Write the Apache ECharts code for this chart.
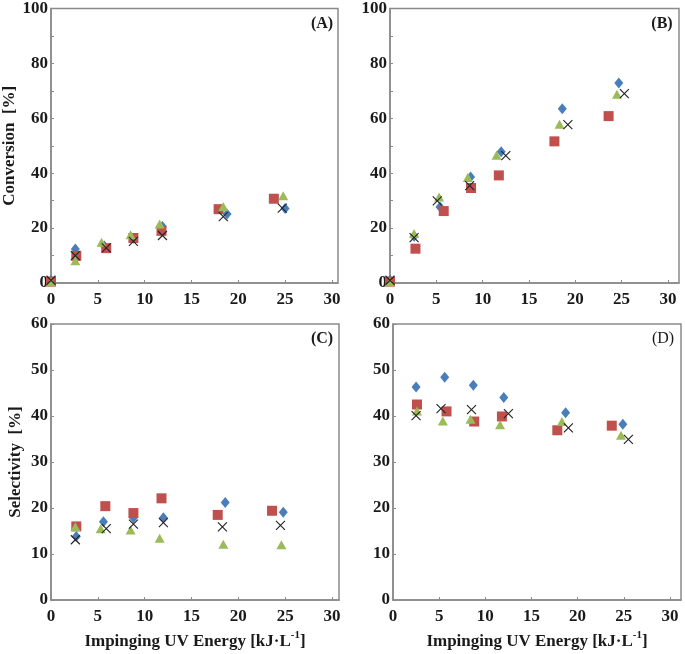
<!DOCTYPE html>
<html>
<head>
<meta charset="utf-8">
<script src="https://cdn.jsdelivr.net/npm/echarts@6/dist/echarts.min.js"></script>
<style>html,body{margin:0;padding:0;background:#fff}#c{width:685px;height:654px}</style>
</head>
<body>
<div id="c"></div>
<script>
// ---------- DATA ----------
const xTickValues = [0, 5, 10, 15, 20, 25, 30];
const convTickLabels = [0, 20, 40, 60, 80, 100];
const selTickLabels = [0, 10, 20, 30, 40, 50, 60];
const panelLabels = ['(A)', '(B)', '(C)', '(D)'];
const yTitleConv = 'Conversion  [%]';
const yTitleSel = 'Selectivity  [%]';

// Panel A – conversion
const A_blue_x  = [0, 2.6, 5.7, 8.8, 11.9, 18.8, 25.0];
const A_blue_y  = [1, 12.4, 13.5, 16.3, 20.6, 25.1, 27.1];
const A_red_x   = [0, 2.7, 5.9, 8.8, 11.8, 17.9, 23.8];
const A_red_y   = [0.5, 9.9, 12.7, 16.4, 19.0, 26.9, 30.7];
const A_green_x = [0, 2.6, 5.4, 8.5, 11.6, 18.4, 24.8];
const A_green_y = [0.5, 8.1, 14.8, 17.6, 21.5, 27.9, 31.8];
const A_cross_x = [0, 2.6, 5.9, 8.8, 11.9, 18.4, 24.7];
const A_cross_y = [1, 10, 12.8, 15.2, 17.3, 24.2, 27.3];

// Panel B – conversion
const B_blue_x  = [0, 2.6, 5.4, 8.7, 12.0, 18.6, 24.7];
const B_blue_y  = [1, 17, 27.7, 38.6, 47.8, 63.5, 72.9];
const B_red_x   = [0, 2.75, 5.8, 8.75, 11.75, 17.75, 23.6];
const B_red_y   = [0.5, 12.5, 26.2, 34.6, 39.2, 51.6, 60.8];
const B_green_x = [0, 2.6, 5.3, 8.4, 11.5, 18.3, 24.5];
const B_green_y = [0.5, 18, 31.3, 38.4, 46.5, 57.8, 68.8];
const B_cross_x = [0, 2.6, 5.1, 8.6, 12.5, 19.2, 25.3];
const B_cross_y = [1, 16.5, 29.9, 35.5, 46.4, 57.7, 69];

// Panel C – selectivity
const C_blue_x  = [2.7, 5.6, 8.8, 12.0, 18.6, 24.8];
const C_blue_y  = [13.8, 17.0, 17.9, 17.9, 21.2, 19.1];
const C_red_x   = [2.7, 5.8, 8.8, 11.8, 17.8, 23.6];
const C_red_y   = [16.0, 20.4, 18.9, 22.1, 18.5, 19.4];
const C_green_x = [2.6, 5.3, 8.5, 11.6, 18.4, 24.6];
const C_green_y = [15.9, 15.5, 15.2, 13.4, 12.1, 12.0];
const C_cross_x = [2.6, 5.9, 8.8, 12.0, 18.3, 24.5];
const C_cross_y = [13.1, 15.5, 16.5, 16.8, 15.9, 16.2];

// Panel D – selectivity
const D_blue_x  = [2.5, 5.6, 8.7, 12.0, 18.7, 24.9];
const D_blue_y  = [46.3, 48.4, 46.7, 44.0, 40.7, 38.2];
const D_red_x   = [2.6, 5.8, 8.8, 11.8, 17.8, 23.7];
const D_red_y   = [42.5, 41.0, 38.8, 39.9, 36.9, 37.9];
const D_green_x = [2.6, 5.4, 8.4, 11.6, 18.3, 24.7];
const D_green_y = [41.1, 38.9, 39.3, 38.1, 38.8, 35.8];
const D_cross_x = [2.5, 5.2, 8.5, 12.5, 19.0, 25.5];
const D_cross_y = [40.1, 41.6, 41.4, 40.5, 37.4, 34.9];

// ---------- STYLE ----------
const FONT = "'Liberation Serif', 'Times New Roman', serif";
const AXIS_COLOR = '#8a8a8a';
const TEXT_COLOR = '#1a1a1a';
const COLORS = { blue: '#4A7EBB', red: '#C0504D', green: '#9BBB59', cross: '#222222' };
const CROSS_PATH = 'path://M0,0L10,10M10,0L0,10';

const grids = [
  { left: 51,  top: 8,   width: 287, height: 275 },
  { left: 390, top: 8,   width: 289, height: 275 },
  { left: 51,  top: 324, width: 288, height: 276 },
  { left: 393, top: 324, width: 288, height: 276 }
];
const xMax = [30.65, 31.2, 30.75, 31.2];

const chart = echarts.init(document.getElementById('c'), null, { renderer: 'canvas' });

function xAxisFor(i) {
  const ax = {
    type: 'value', gridIndex: i, min: 0, max: xMax[i], interval: 5,
    axisLine: { show: true, onZero: false, lineStyle: { color: AXIS_COLOR, width: 1.5 } },
    axisTick: { show: true, inside: true, length: 3, customValues: xTickValues, lineStyle: { color: AXIS_COLOR } },
    axisLabel: { customValues: xTickValues, fontFamily: FONT, fontWeight: 'bold', fontSize: 17, color: TEXT_COLOR, margin: 8 },
    splitLine: { show: false }
  };
  if (i >= 2) {
    ax.name = '{a|Impinging UV Energy [kJ·L}{s|-1}{a|]}';
    ax.nameLocation = 'middle';
    ax.nameGap = 30;
    ax.nameTextStyle = {
      rich: {
        a: { fontFamily: FONT, fontWeight: 'bold', fontSize: 17, color: TEXT_COLOR, lineHeight: 20, verticalAlign: 'bottom' },
        s: { fontFamily: FONT, fontWeight: 'bold', fontSize: 11, color: TEXT_COLOR, lineHeight: 20, verticalAlign: 'top' }
      }
    };
  }
  return ax;
}

function yAxisFor(i) {
  const conv = i < 2;
  const ax = {
    type: 'value', gridIndex: i, min: 0, max: conv ? 100 : 60, interval: 10,
    axisLine: { show: true, onZero: false, lineStyle: { color: AXIS_COLOR, width: 1.5 } },
    axisTick: { show: true, inside: true, length: 3, lineStyle: { color: AXIS_COLOR } },
    axisLabel: { customValues: conv ? convTickLabels : selTickLabels, fontFamily: FONT, fontWeight: 'bold', fontSize: 17, color: TEXT_COLOR, margin: 3 },
    splitLine: { show: false }
  };
  if (i === 0 || i === 2) {
    ax.name = i === 0 ? yTitleConv : yTitleSel;
    ax.nameLocation = 'middle';
    ax.nameGap = 27;
    ax.nameTextStyle = { fontFamily: FONT, fontWeight: 'bold', fontSize: 17, color: TEXT_COLOR };
  }
  return ax;
}

function zip(xs, ys) { return xs.map((x, k) => [x, ys[k]]); }

function seriesSet(i, bx, by, rx, ry, gx, gy, cx, cy) {
  return [
    { type: 'scatter', xAxisIndex: i, yAxisIndex: i, data: zip(bx, by), symbol: 'diamond', symbolSize: [9, 11],
      itemStyle: { color: COLORS.blue, opacity: 1 }, z: 2 },
    { type: 'scatter', xAxisIndex: i, yAxisIndex: i, data: zip(rx, ry), symbol: 'rect', symbolSize: 10,
      itemStyle: { color: COLORS.red, opacity: 1 }, z: 3 },
    { type: 'scatter', xAxisIndex: i, yAxisIndex: i, data: zip(gx, gy), symbol: 'triangle', symbolSize: [10, 9],
      itemStyle: { color: COLORS.green, opacity: 1 }, z: 4 },
    { type: 'scatter', xAxisIndex: i, yAxisIndex: i, data: zip(cx, cy), symbol: CROSS_PATH, symbolSize: 9,
      itemStyle: { color: 'transparent', borderColor: COLORS.cross, borderWidth: 1.1, opacity: 1 }, z: 5 }
  ];
}

const series = [].concat(
  seriesSet(0, A_blue_x, A_blue_y, A_red_x, A_red_y, A_green_x, A_green_y, A_cross_x, A_cross_y),
  seriesSet(1, B_blue_x, B_blue_y, B_red_x, B_red_y, B_green_x, B_green_y, B_cross_x, B_cross_y),
  seriesSet(2, C_blue_x, C_blue_y, C_red_x, C_red_y, C_green_x, C_green_y, C_cross_x, C_cross_y),
  seriesSet(3, D_blue_x, D_blue_y, D_red_x, D_red_y, D_green_x, D_green_y, D_cross_x, D_cross_y)
);

const labelPos = [[322, 24], [662, 24], [322, 339], [663, 339]];
const graphic = panelLabels.map((t, i) => ({
  type: 'text', x: labelPos[i][0], y: labelPos[i][1], z: 10,
  style: { text: t, font: (i === 3 ? 'normal' : 'bold') + ' 16px ' + FONT, fill: TEXT_COLOR, textAlign: 'center', textVerticalAlign: 'middle' }
}));

chart.setOption({
  animation: false,
  backgroundColor: '#ffffff',
  grid: grids.map(g => Object.assign({ show: true, borderColor: AXIS_COLOR, borderWidth: 1.5, backgroundColor: 'transparent', containLabel: false }, g)),
  xAxis: [0, 1, 2, 3].map(xAxisFor),
  yAxis: [0, 1, 2, 3].map(yAxisFor),
  series: series,
  graphic: graphic
});
</script>
</body>
</html>
